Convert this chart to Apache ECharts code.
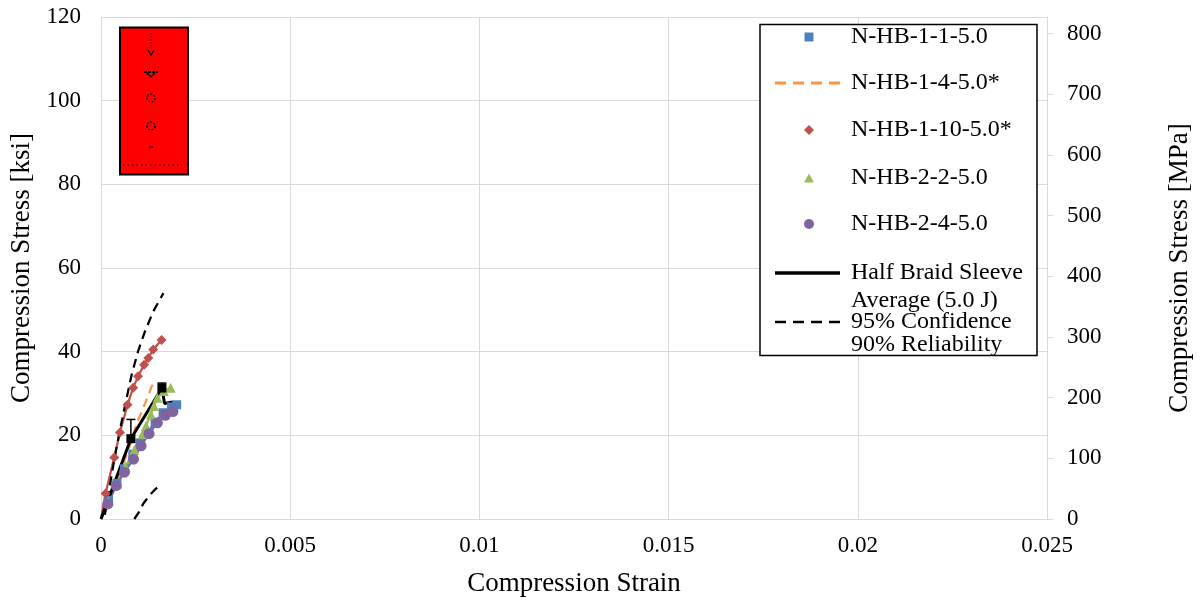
<!DOCTYPE html>
<html>
<head>
<meta charset="utf-8">
<script src="https://cdn.jsdelivr.net/npm/echarts@6/dist/echarts.min.js"></script>
<style>html,body{margin:0;padding:0;background:#fff}#c{width:1201px;height:602px}</style>
</head>
<body>
<div id="c"></div>
<script>
// ---- data (strain, stress ksi) ----
const strainTickLabels = ['0', '0.005', '0.01', '0.015', '0.02', '0.025'];
const ksiTickLabels = ['0', '20', '40', '60', '80', '100', '120'];
const mpaTickLabels = ['0', '100', '200', '300', '400', '500', '600', '700', '800'];

const nhb_1_1 = [[0,0],[0.0002,4.5],[0.00042,8.5],[0.00062,12],[0.00084,15.5],[0.00103,18.2],[0.00121,20.5],[0.00143,23],[0.00164,25.4],[0.00186,26.8],[0.002,27.3]];
const nhb_1_4 = [[0,0],[0.0002,4.2],[0.0004,8.8],[0.0006,13.5],[0.0008,18.5],[0.00094,22.8],[0.00112,26.6],[0.00125,29.6],[0.00134,31.7],[0.00143,33]];
const nhb_1_10 = [[0,0],[0.00012,6.1],[0.00035,14.7],[0.0005,20.7],[0.0007,27.3],[0.00085,31.4],[0.00098,34.1],[0.00114,36.9],[0.00125,38.5],[0.00138,40.5],[0.0016,42.8]];
const nhb_2_2 = [[0,0],[0.0002,4.2],[0.00042,8.3],[0.00065,12.5],[0.00088,16.5],[0.0011,20.3],[0.00119,22.3],[0.00132,25],[0.0014,27],[0.00149,29],[0.00166,30.6],[0.00184,31.4]];
const nhb_2_4 = [[0,0],[0.00018,3.6],[0.0004,8.0],[0.00062,11.2],[0.00086,14.3],[0.00106,17.5],[0.00127,20.4],[0.00149,23.0],[0.0017,24.8],[0.0019,25.7]];
const avgHalfBraid = [[0,0],[0.00079,19.2],[0.00161,31.3],[0.00168,27.6],[0.0019,28.0]];
const avgMarkedIdx = [1, 2];
const avgErrBars = [[0.00079,19.2,23.8],[0.00161,31.3,32.5]];
const conf95Upper = [[0.0001,1],[0.00015,3.3],[0.00028,10.5],[0.00041,17.1],[0.00054,23],[0.00068,29],[0.00081,34.5],[0.00098,40.1],[0.00116,44.8],[0.00138,49.6],[0.00165,54]];
const conf95Lower = [[0.00088,0],[0.001,1.6],[0.00112,3.7],[0.00127,5.5],[0.00141,6.9],[0.0015,7.6]];

const seriesNames = ['N-HB-1-1-5.0', 'N-HB-1-4-5.0*', 'N-HB-1-10-5.0*', 'N-HB-2-2-5.0', 'N-HB-2-4-5.0', 'Half Braid Sleeve Average (5.0 J)', '95% Confidence 90% Reliability'];
const legendFirstLines = ['N-HB-1-1-5.0', 'N-HB-1-4-5.0*', 'N-HB-1-10-5.0*', 'N-HB-2-2-5.0', 'N-HB-2-4-5.0', 'Half Braid Sleeve', '95% Confidence'];
const legendSecondLines = [null, null, null, null, null, 'Average (5.0 J)', '90% Reliability'];

const KSI_TO_MPA = 6.89476;
const FONT = 'Liberation Serif';
const colors = ['#4F81BD', '#F79646', '#C0504D', '#9BBB59', '#8064A2', '#000000', '#000000'];

// legend layout
const legendRowY = [37, 83, 130, 178, 224, 273, 322];
const legendSecondY = [null, null, null, null, null, 301, 345];
const dashPath = 'path://M0,0h11v3h-11z M18,0h11v3h-11z M36,0h11v3h-11z M54,0h11v3h-11z';
const legendIcons = [
  {icon: 'rect', w: 9, h: 9, line: false},
  {icon: dashPath, w: 65, h: 3, line: true},
  {icon: 'diamond', w: 10, h: 10, line: false},
  {icon: 'triangle', w: 10, h: 9, line: false},
  {icon: 'circle', w: 10, h: 10, line: false},
  {icon: 'rect', w: 65, h: 3.5, line: true},
  {icon: dashPath, w: 65, h: 2.5, line: true}
];
const legends = seriesNames.map((nm, i) => {
  const ic = legendIcons[i];
  const left = ic.line ? 775 : 809 - ic.w / 2;
  const textStart = left + ic.w + 5;
  return {
    orient: 'vertical', left: left, top: legendRowY[i] - 14, padding: 0,
    itemWidth: ic.w, itemHeight: ic.h, selectedMode: false, symbolKeepAspect: false,
    data: [{name: nm, icon: ic.icon}],
    formatter: () => legendFirstLines[i],
    itemStyle: {borderWidth: 0},
    textStyle: {fontFamily: FONT, fontSize: 24, color: '#000', lineHeight: 28, padding: [0, 0, 0, 851 - textStart]},
    z: 10
  };
});

const chart = echarts.init(document.getElementById('c'), null, {renderer: 'canvas'});

function markerAfterOrigin(shape) {
  return (val, params) => params.dataIndex === 0 ? 'none' : shape;
}

function lineSeries(name, data, color, opts) {
  return Object.assign({
    type: 'line', name: name, data: data, yAxisIndex: 0,
    color: color,
    lineStyle: {color: color, width: 2.25},
    itemStyle: {color: color, borderWidth: 0},
    symbol: 'none', showAllSymbol: true, animation: false, clip: true,
    emphasis: {disabled: true}
  }, opts || {});
}

const graphics = [
  {type: 'rect', shape: {x: 760, y: 24.5, width: 277, height: 331}, style: {fill: '#fff', stroke: '#000', lineWidth: 1.5}, z: 5},
  // red box
  {type: 'rect', shape: {x: 120, y: 27.5, width: 68, height: 147}, style: {fill: '#ff0000', stroke: '#000', lineWidth: 2}, z: 5},
  {type: 'line', shape: {x1: 151, y1: 33, x2: 151, y2: 48}, style: {stroke: '#000', lineWidth: 1, lineDash: [1.5, 1.5]}, z: 6},
  {type: 'polyline', shape: {points: [[148, 50], [151, 55], [154, 50]]}, style: {stroke: '#000', lineWidth: 1.2, fill: null}, z: 6},
  {type: 'line', shape: {x1: 144, y1: 72, x2: 158, y2: 72}, style: {stroke: '#000', lineWidth: 2, lineDash: [3, 1]}, z: 6},
  {type: 'polyline', shape: {points: [[147, 73], [151, 77], [155, 73]]}, style: {stroke: '#000', lineWidth: 1.2, fill: null}, z: 6},
  {type: 'circle', shape: {cx: 151, cy: 98, r: 4}, style: {stroke: '#000', lineWidth: 1.5, fill: null, lineDash: [2, 1.5]}, z: 6},
  {type: 'circle', shape: {cx: 151, cy: 126, r: 4}, style: {stroke: '#000', lineWidth: 1.5, fill: null, lineDash: [2, 1.5]}, z: 6},
  {type: 'line', shape: {x1: 149, y1: 147, x2: 153, y2: 147}, style: {stroke: '#000', lineWidth: 1.2}, z: 6},
  {type: 'line', shape: {x1: 123, y1: 165, x2: 182, y2: 165}, style: {stroke: '#000', lineWidth: 1, lineDash: [1.5, 3]}, z: 6}
];
legendSecondLines.forEach((t, i) => {
  if (t) graphics.push({type: 'text', x: 851, y: legendSecondY[i], style: {text: t, font: '24px "' + FONT + '"', fill: '#000', textVerticalAlign: 'middle'}, z: 11});
});

const option = {
  animation: false,
  backgroundColor: '#fff',
  grid: {left: 101, right: 152, top: 17, bottom: 80, containLabel: false},
  legend: legends,
  graphic: graphics,
  xAxis: {
    type: 'value', min: 0, max: 0.025, interval: 0.005,
    name: 'Compression Strain', nameLocation: 'middle', nameGap: 51,
    nameTextStyle: {fontFamily: FONT, fontSize: 27, color: '#000'},
    axisLine: {show: true, lineStyle: {color: '#d9d9d9', width: 1}},
    axisTick: {show: false},
    axisLabel: {fontFamily: FONT, fontSize: 23, color: '#000', margin: 15,
      formatter: (v, idx) => strainTickLabels[idx]},
    splitLine: {show: true, lineStyle: {color: '#d9d9d9', width: 1}}
  },
  yAxis: [
    {
      type: 'value', min: 0, max: 120, interval: 20, position: 'left',
      name: 'Compression Stress [ksi]', nameLocation: 'middle', nameGap: 64,
      nameTextStyle: {fontFamily: FONT, fontSize: 27, color: '#000'},
      axisLine: {show: true, lineStyle: {color: '#d9d9d9', width: 1}},
      axisTick: {show: false},
      axisLabel: {fontFamily: FONT, fontSize: 23, color: '#000', margin: 20,
        formatter: (v, idx) => ksiTickLabels[idx]},
      splitLine: {show: true, lineStyle: {color: '#d9d9d9', width: 1}}
    },
    {
      type: 'value', min: 0, max: 120 * KSI_TO_MPA, interval: 100, position: 'right',
      name: 'Compression Stress [MPa]', nameLocation: 'middle', nameGap: 119,
      nameTextStyle: {fontFamily: FONT, fontSize: 27, color: '#000'},
      axisLine: {show: true, lineStyle: {color: '#d9d9d9', width: 1}},
      axisTick: {show: true, length: 6, inside: false, lineStyle: {color: '#d9d9d9'}},
      axisLabel: {fontFamily: FONT, fontSize: 23, color: '#000', margin: 20, showMaxLabel: false,
        formatter: (v, idx) => mpaTickLabels[idx] !== undefined ? mpaTickLabels[idx] : ''},
      splitLine: {show: false}
    }
  ],
  series: [
    lineSeries(seriesNames[0], nhb_1_1, colors[0], {symbol: markerAfterOrigin('rect'), symbolSize: 9}),
    lineSeries(seriesNames[1], nhb_1_4, colors[1], {lineStyle: {color: colors[1], width: 2.25, type: [9, 6]}}),
    lineSeries(seriesNames[2], nhb_1_10, colors[2], {symbol: markerAfterOrigin('diamond'), symbolSize: 10}),
    lineSeries(seriesNames[3], nhb_2_2, colors[3], {symbol: markerAfterOrigin('triangle'), symbolSize: 10}),
    lineSeries(seriesNames[4], nhb_2_4, colors[4], {symbol: markerAfterOrigin('circle'), symbolSize: 11}),
    lineSeries(seriesNames[5], avgHalfBraid, colors[5], {
      lineStyle: {color: '#000', width: 3},
      symbol: (val, params) => avgMarkedIdx.indexOf(params.dataIndex) >= 0 ? 'rect' : 'none',
      symbolSize: 9
    }),
    {
      type: 'custom', name: 'avgErr', data: avgErrBars, yAxisIndex: 0, animation: false, silent: true,
      encode: {x: 0, y: [1, 2]},
      renderItem: (params, api) => {
        const x = api.value(0), lo = api.value(1), hi = api.value(2);
        const p1 = api.coord([x, lo]), p2 = api.coord([x, hi]);
        return {type: 'group', children: [
          {type: 'line', shape: {x1: p1[0], y1: p1[1], x2: p2[0], y2: p2[1]}, style: {stroke: '#000', lineWidth: 1.5}},
          {type: 'line', shape: {x1: p2[0] - 4.5, y1: p2[1], x2: p2[0] + 4.5, y2: p2[1]}, style: {stroke: '#000', lineWidth: 1.5}}
        ]};
      }
    },
    lineSeries(seriesNames[6], conf95Upper, colors[6], {lineStyle: {color: '#000', width: 2.25, type: [9, 6]}}),
    lineSeries('95% lower', conf95Lower, colors[6], {lineStyle: {color: '#000', width: 2.25, type: [9, 6]}})
  ]
};
chart.setOption(option);
</script>
</body>
</html>
